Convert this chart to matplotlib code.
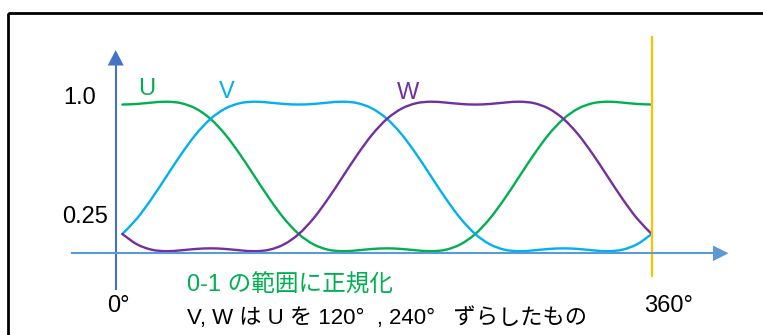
import numpy as np
import matplotlib
matplotlib.use("Agg")
import matplotlib.pyplot as plt
from matplotlib.path import Path
from matplotlib.patches import PathPatch, Rectangle, Polygon
from matplotlib.lines import Line2D
import matplotlib.transforms as mtransforms

# ---- data (10 degree steps) ----
angles = list(range(0, 361, 10))
U = [0.981, 0.985, 0.994, 1.000, 0.990, 0.954, 0.885, 0.781, 0.648, 0.500,
     0.352, 0.219, 0.115, 0.046, 0.010, 0.000, 0.006, 0.015, 0.019, 0.015,
     0.006, 0.000, 0.010, 0.046, 0.115, 0.219, 0.352, 0.500, 0.648, 0.781,
     0.885, 0.954, 0.990, 1.000, 0.994, 0.985, 0.981]
V = [0.115, 0.219, 0.352, 0.500, 0.648, 0.781, 0.885, 0.954, 0.990, 1.000,
     0.994, 0.985, 0.981, 0.985, 0.994, 1.000, 0.990, 0.954, 0.885, 0.781,
     0.648, 0.500, 0.352, 0.219, 0.115, 0.046, 0.010, 0.000, 0.006, 0.015,
     0.019, 0.015, 0.006, 0.000, 0.010, 0.046, 0.115]
W = [0.115, 0.046, 0.010, 0.000, 0.006, 0.015, 0.019, 0.015, 0.006, 0.000,
     0.010, 0.046, 0.115, 0.219, 0.352, 0.500, 0.648, 0.781, 0.885, 0.954,
     0.990, 1.000, 0.994, 0.985, 0.981, 0.985, 0.994, 1.000, 0.990, 0.954,
     0.885, 0.781, 0.648, 0.500, 0.352, 0.219, 0.115]
series_names = ["U", "V", "W"]
series_colors = ["#00B050", "#00B0F0", "#7030A0"]
y_labels = ["1.0", "0.25"]
x_labels = ["0°", "360°"]
note_green = "0-1 の範囲に正規化"
note_black = "V, W は U を 120°  , 240°   ずらしたもの"

W_PX, H_PX = 763, 335
fig = plt.figure(figsize=(W_PX / 100, H_PX / 100), dpi=100)
ax = fig.add_axes([0, 0, 1, 1])

# pixel mapping of the reference
X0_PX, X360_PX = 122.3, 651.7
Y0_PX, YPER = 251.2, 149.5
def deg(px):
    return (px - X0_PX) * 360.0 / (X360_PX - X0_PX)
def val(py):
    return (Y0_PX - py) / YPER

ax.set_xlim(deg(0), deg(W_PX))
ax.set_ylim(val(H_PX), val(0))
ax.axis("off")

# pixel transform for decorations (origin top-left)
tpx = mtransforms.Affine2D().scale(1 / W_PX, -1 / H_PX).translate(0, 1) + fig.transFigure

# border
fig.add_artist(Rectangle((8.3, 13.3), 900, 500, fill=False, edgecolor="black",
                         linewidth=2.0, transform=tpx))

# axes arrows
ax_blue_y = "#4472C4"
ax_blue_x = "#5B9BD5"
fig.add_artist(Line2D([115.7, 115.7], [289, 62], color=ax_blue_y, lw=1.5, transform=tpx))
fig.add_artist(Polygon([[115.7, 50], [107.7, 65.5], [123.7, 65.5]], closed=True,
                       facecolor=ax_blue_y, edgecolor="none", transform=tpx))
fig.add_artist(Line2D([72, 716], [253.3, 253.3], color=ax_blue_x, lw=1.5, transform=tpx))
fig.add_artist(Polygon([[728.5, 253.3], [713, 245.5], [713, 261.1]], closed=True,
                       facecolor=ax_blue_x, edgecolor="none", transform=tpx))

# orange 360 line
ax.plot([360, 360], [val(276.7), val(36)], color="#FFC000", lw=1.6, solid_capstyle="butt")

# smooth curves through read points (Catmull-Rom -> cubic Bezier)
def smooth_path(xs, ys):
    pts = np.column_stack([xs, ys]).astype(float)
    n = len(pts)
    verts = [pts[0]]
    codes = [Path.MOVETO]
    for i in range(n - 1):
        p0 = pts[i - 1] if i > 0 else pts[i]
        p1 = pts[i]
        p2 = pts[i + 1]
        p3 = pts[i + 2] if i + 2 < n else pts[i + 1]
        c1 = p1 + (p2 - p0) / 6.0
        c2 = p2 - (p3 - p1) / 6.0
        verts += [c1, c2, p2]
        codes += [Path.CURVE4] * 3
    return Path(verts, codes)

for ys, col in zip([U, V, W], series_colors):
    ax.add_patch(PathPatch(smooth_path(angles, ys), facecolor="none",
                           edgecolor=col, lw=1.7, capstyle="round", joinstyle="round"))

lat = ["Liberation Sans", "DejaVu Sans"]
jp = ["Liberation Sans", "Noto Sans CJK JP", "DejaVu Sans"]

# series labels
for name, col, (x, y) in zip(series_names, series_colors, [(138, 95), (219, 98), (397, 99)]):
    fig.text(x, y, name, color=col, fontsize=17, family=lat, ha="left", va="baseline",
             transform=tpx)

# value labels
for lab, (x, y) in zip(y_labels, [(63, 104), (62, 223)]):
    fig.text(x, y, lab, color="black", fontsize=17, family=lat, ha="left",
             va="baseline", transform=tpx)
for lab, (x, y) in zip(x_labels, [(107, 312), (644, 312)]):
    fig.text(x, y, lab, color="black", fontsize=17, family=lat, ha="left",
             va="baseline", transform=tpx)

fig.text(187, 291.3, note_green, color="#00B050", fontsize=17, family=jp,
         ha="left", va="baseline", transform=tpx)
fig.text(187, 324, note_black, color="black", fontsize=16, family=jp,
         ha="left", va="baseline", transform=tpx)

fig.savefig("out.png", dpi=100)
